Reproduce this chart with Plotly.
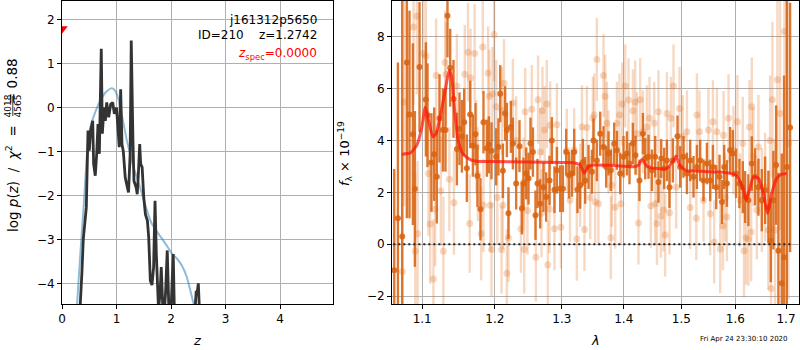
import plotly.graph_objects as go

# ---------------- left panel: p(z) ----------------
z_pz = [0.33, 0.336, 0.367, 0.39, 0.416, 0.446, 0.477, 0.50, 0.526, 0.563, 0.58, 0.61, 0.636, 0.66, 0.685,
        0.72, 0.74, 0.77, 0.795, 0.82, 0.856, 0.893, 0.93, 0.96, 1.0, 1.03, 1.05, 1.076, 1.10, 1.125, 1.16,
        1.2, 1.22, 1.25, 1.27, 1.30, 1.32, 1.36, 1.38, 1.40, 1.425, 1.443, 1.47, 1.50, 1.53, 1.566, 1.59,
        1.62, 1.65, 1.68, 1.706, 1.73, 1.755, 1.77, 1.80, 1.82, 1.85, 1.88, 1.90, 1.93, 1.96, 2.0, 2.04,
        2.06, 2.44, 2.46, 2.48, 2.50, 2.52]
logp = [-4.6, -4.47, -3.71, -3.0, -2.57, -2.27, -0.52, -0.98, -0.52, -0.30, -1.28, -1.55, -1.05, -0.37, -1.05,
        1.34, -0.59, 0.01, -0.30, 0.12, -0.22, 0.08, 0.12, -0.14, 0.0, -0.52, -0.9, 0.42, -0.83, -1.0, -1.59,
        -1.82, -1.93, -1.05, 1.53, -0.7, -1.67, -1.82, -1.97, -1.52, -0.83, -1.28, -1.36, -2.05, -2.43, -2.57, -2.95,
        -3.94, -4.04, -3.63, -2.12, -3.33, -4.39, -4.6, -4.2, -3.63, -4.6, -4.6, -4.2, -3.25, -4.6, -4.6, -3.33,
        -4.6, -4.6, -4.2, -4.2, -4.0, -4.6]

z_chi = [0.275, 0.336, 0.40, 0.46, 0.52, 0.61, 0.70, 0.795, 0.90, 0.95, 1.01, 1.07, 1.13, 1.19, 1.25, 1.31,
         1.376, 1.47, 1.56, 1.65, 1.77, 1.90, 2.02, 2.11, 2.20, 2.29, 2.355, 2.43]
chi_val = [-4.5, -3.33, -2.2, -1.05, -0.45, -0.1, 0.16, 0.34, 0.44, 0.42, 0.30, 0.0, -0.37, -0.75, -1.05, -1.36,
           -1.59, -1.97, -2.35, -2.65, -2.87, -3.1, -3.33, -3.44, -3.6, -3.86, -4.17, -4.55]

z_spec = [0.0]
zspec_y = [1.80]

# ---------------- right panel: spectrum ----------------
lam_dark = [1.0638, 1.0685, 1.0740, 1.0800, 1.0834, 1.0878, 1.0904, 1.0965, 1.1049, 1.1070, 1.1122, 1.1159,
            1.1194, 1.1230, 1.1276, 1.1311, 1.1338, 1.1375, 1.1420, 1.1466, 1.1502, 1.1535, 1.1567, 1.1604,
            1.1650, 1.1688, 1.1724, 1.1752, 1.1794, 1.1837, 1.1885, 1.1913, 1.1951,
            1.2018, 1.2051, 1.2076, 1.2115, 1.2148, 1.2173, 1.2196, 1.2232, 1.2261, 1.2309, 1.2358, 1.2394,
            1.2417, 1.2458, 1.2492, 1.2522, 1.2558, 1.2597, 1.2627, 1.2668, 1.2718, 1.2759, 1.2810, 1.2846,
            1.2886, 1.2924, 1.2975,
            1.3017, 1.3068, 1.3111, 1.3158, 1.3194, 1.3246, 1.3289, 1.3332, 1.3369, 1.3422, 1.3477,
            1.3502, 1.3557, 1.3611, 1.3665, 1.3709, 1.3747, 1.3786, 1.3841, 1.3886, 1.3941,
            1.3996, 1.4053, 1.4097, 1.4154, 1.4198, 1.4266, 1.4325, 1.4364, 1.4421, 1.4480,
            1.4537, 1.4594, 1.4642, 1.4694, 1.4742, 1.4788, 1.4848, 1.4930, 1.4978, 1.5038,
            1.5099, 1.5159, 1.5219, 1.5281, 1.5341, 1.5402, 1.5465, 1.5526, 1.5576,
            1.5638, 1.5700, 1.5745, 1.5788, 1.5839, 1.5900, 1.5951, 1.6014, 1.6078,
            1.6143, 1.6188, 1.6252, 1.6318, 1.6383, 1.6448, 1.6515, 1.6580, 1.6646,
            1.6693, 1.6745, 1.6800, 1.6846, 1.6914, 1.6960, 1.7016, 1.7083]
flux_dark = [-1.0, 1.0, 0.3, 7.0, 5.0, 4.24, 2.13, 6.83, 5.58, 4.97, 3.15, 3.47,
             2.6, 4.85, 4.4, 4.4, 8.8, 6.8, 5.6, 3.67, 4.45, 4.16, 4.7, 2.93,
             5.0, 3.8, 4.24, 2.63, 1.35, 4.7, 3.7, 3.83, 3.6,
             3.37, 3.75, 5.8, 2.83, 5.04, 4.4, 1.2, 4.52, 3.88, 2.34, 3.78, 1.38,
             2.34, 2.73, 2.53, 3.88, 3.55, 1.12, 2.34, 1.56, 2.2, 1.82, 2.46, 4.0,
             2.1, 2.85, 2.14,
             2.14, 3.55, 2.66, 2.73, 3.55, 2.1, 2.27, 3.16, 2.46, 2.98, 2.79,
             4.0, 3.23, 4.26, 3.75, 2.98, 3.5, 2.85, 3.88, 3.62, 2.73,
             3.37, 3.5, 3.11, 3.88, 3.43, 2.46, 4.26, 3.3, 3.37, 2.85,
             3.37, 2.4, 3.3, 2.92, 3.23, 2.2, 3.23, 4.16, 2.98, 3.37,
             2.73, 3.23, 2.6, 2.98, 3.23, 2.46, 3.11, 2.46, 2.98,
             2.2, 2.6, 1.63, 2.98, 2.34, 3.62, 3.5, 2.73, 2.34,
             2.2, 1.82, 1.7, 3.11, 2.6, 2.2, 1.7, 2.08, 1.43,
             0.14, 1.7, 3.05, -0.25, -1.5, -0.5, 2.98, 4.5]
err_dark = [3.9, 6.0, 10.0, 6.0, 4.0, 3.5, 3.0, 2.5, 2.2, 2.0, 1.9, 1.8,
            1.8, 1.7, 1.6, 1.6, 1.6, 1.5, 1.5, 1.4, 1.4, 1.4, 1.3, 1.3,
            1.3, 1.2, 1.2, 1.2, 1.2, 1.2, 1.1, 1.1, 1.1,
            1.1, 1.1, 1.1, 1.05, 1.05, 1.05, 1.0, 1.0, 1.0, 1.0, 1.0, 1.0,
            1.0, 1.0, 1.0, 1.0, 0.95, 0.95, 0.95, 0.95, 0.95, 0.95, 0.95, 0.9,
            0.9, 0.9, 0.9,
            0.9, 0.9, 0.9, 0.9, 0.9, 0.9, 0.9, 0.9, 0.9, 0.85, 0.85,
            0.85, 0.8, 0.85, 0.8, 0.8, 0.85, 0.8, 0.8, 0.75, 0.8,
            0.8, 0.85, 0.8, 0.8, 0.75, 0.8, 0.8, 0.8, 0.85, 0.8,
            0.8, 0.8, 0.75, 0.8, 0.8, 0.8, 0.85, 0.8, 0.8, 0.8,
            0.8, 0.8, 0.8, 0.85, 0.8, 0.8, 0.8, 0.8, 0.85,
            0.85, 0.85, 0.85, 0.85, 0.9, 0.9, 0.9, 0.95, 0.95,
            1.0, 1.0, 1.0, 1.05, 1.1, 1.1, 1.2, 1.3, 1.4,
            1.6, 1.9, 2.3, 3.0, 5.0, 7.0, 9.0, 4.8]

lam_light = [1.0743, 1.0765, 1.0887, 1.0909, 1.0930, 1.0940, 1.1016, 1.1049, 1.1083, 1.1106, 1.1149, 1.1172,
             1.1185, 1.1248, 1.1282, 1.1305, 1.1318, 1.1363, 1.1426, 1.1466, 1.1575, 1.1620, 1.1643, 1.1655,
             1.1712, 1.1735, 1.1757, 1.1804, 1.1827, 1.1836, 1.1902, 1.1920, 1.1934, 1.1952, 1.1965, 1.1988,
             1.2020, 1.2034, 1.2095, 1.2101, 1.2115, 1.2131, 1.2173, 1.2196, 1.2261, 1.2309, 1.2379, 1.2417,
             1.2428, 1.2443, 1.2476, 1.2541, 1.2603, 1.2636, 1.2668, 1.2688, 1.2702, 1.2736, 1.2769, 1.2784,
             1.2810, 1.2820, 1.2886, 1.2924, 1.2986, 1.3078, 1.3128, 1.3194, 1.3236, 1.3289, 1.3317, 1.3358,
             1.3396, 1.3450, 1.3493, 1.3515, 1.3530, 1.3557, 1.3583, 1.3665, 1.3692, 1.3720, 1.3747, 1.3786,
             1.3803, 1.3858, 1.3886, 1.3929, 1.3952, 1.3974, 1.4025, 1.4080, 1.4154, 1.4193, 1.4222, 1.4249,
             1.4278, 1.4325, 1.4393, 1.4438, 1.4462, 1.4520, 1.4537, 1.4567, 1.4594, 1.4636, 1.4681, 1.4711,
             1.4742, 1.4788, 1.4812, 1.4859, 1.4906, 1.4966, 1.5026, 1.5099, 1.5159, 1.5270, 1.5281, 1.5328,
             1.5402, 1.5493, 1.5526, 1.5576, 1.5600, 1.5651, 1.5713, 1.5764, 1.5776, 1.5808, 1.5839, 1.5870,
             1.5964, 1.6040, 1.6091, 1.6143, 1.6168, 1.6207, 1.6252, 1.6272, 1.6305, 1.6318, 1.6350, 1.6416,
             1.6448, 1.6515, 1.6580, 1.6646, 1.6679, 1.6699, 1.6725, 1.6779, 1.6825, 1.6880, 1.6968, 1.7050]
flux_light = [-1.05, 5.48, 8.37, -0.27, 8.78, 0.41, 7.35, 7.24, 2.73, 0.78, -1.34, 1.35,
              6.5, 2.05, -0.27, 7.0, 6.55, 2.5, 1.6, 6.1, 6.55, 7.4, 0.8, 6.4,
              7.35, 3.75, 2.7, 0.41, 7.6, 1.5, 6.6, 5.7, 1.5, -0.2, 5.8, 8.08,
              5.3, 1.8, -0.2, 5.14, 1.5, 6.2, -1.12, 0.25, 5.44, 4.0, 0.6, 2.4,
              -0.2, 5.1, 1.3, 5.2, -0.5, 5.57, 3.55, 1.2, 5.14, 4.4, 5.4, -0.79,
              1.36, 4.58, 0.6, 4.6, 0.66, 3.62, 1.7, 3.64, 0.2, 2.27, 4.52, 0.57,
              4.5, 1.8, 4.85, 4.98, 1.63, 7.12, 1.56, 6.5, 5.7, 4.66, 3.55, 0.25,
              2.27, 1.43, 4.66, 4.98, 1.56, 5.4, 6.1, 5.56, 5.14, 5.48, 4.26, 0.82,
              5.57, 4.33, 4.52, 4.85, 1.47, 4.66, 1.56, 0.8, 5.1, 1.08, 1.32, 0.36,
              5.04, 1.21, 4.85, 6.1, 2.2, 5.23, 4.14, 4.33, 1.42, 1.0, 4.98, 4.33,
              1.7, 4.4, 1.18, 4.72, 0.09, 4.33, -0.18, 0.7, 4.2, 1.8, 1.05, 4.85,
              3.62, 4.72, 1.7, 3.88, -0.25, 0.25, 0.2, 4.52, 0.47, 5.3, 3.37, 1.32,
              3.75, 1.7, 2.2, 0.55, 4.0, -1.7, 5.57, 0.55, 6.34, 5.04, 8.2, 3.88]
err_light = [4.5, 4.0, 3.0, 3.0, 3.0, 2.8, 2.6, 2.5, 2.4, 2.3, 2.3, 2.2,
             2.2, 2.1, 2.1, 2.0, 2.0, 2.0, 2.0, 2.0, 1.9, 1.9, 1.9, 1.9,
             1.9, 1.8, 1.8, 1.8, 1.8, 1.8, 1.8, 1.8, 1.8, 1.8, 1.8, 1.8,
             1.8, 1.8, 1.7, 1.7, 1.7, 1.7, 1.7, 1.7, 1.7, 1.7, 1.7, 1.7,
             1.7, 1.7, 1.7, 1.7, 1.7, 1.7, 1.7, 1.7, 1.7, 1.7, 1.7, 1.7,
             1.7, 1.7, 1.6, 1.6, 1.6, 1.6, 1.6, 1.6, 1.6, 1.6, 1.6, 1.6,
             1.6, 1.6, 1.6, 1.6, 1.6, 1.6, 1.6, 1.6, 1.6, 1.6, 1.6, 1.6,
             1.6, 1.6, 1.6, 1.6, 1.6, 1.6, 1.6, 1.6, 1.6, 1.6, 1.6, 1.6,
             1.6, 1.6, 1.6, 1.6, 1.6, 1.6, 1.6, 1.6, 1.6, 1.6, 1.6, 1.6,
             1.6, 1.6, 1.6, 1.6, 1.6, 1.6, 1.6, 1.6, 1.6, 1.6, 1.6, 1.6,
             1.6, 1.6, 1.6, 1.6, 1.6, 1.7, 1.7, 1.7, 1.7, 1.7, 1.7, 1.7,
             1.7, 1.8, 1.8, 1.8, 1.8, 1.8, 1.8, 1.8, 1.9, 1.9, 1.9, 1.9,
             2.0, 2.0, 2.1, 2.3, 2.5, 3.0, 3.0, 3.5, 4.0, 4.5, 5.0, 6.0]

lam_model = [1.0736, 1.0845, 1.0930, 1.0996, 1.1039, 1.1083, 1.1142, 1.1185, 1.1238, 1.1307, 1.1363, 1.1394,
             1.1439, 1.1484, 1.1551, 1.1666, 1.1780, 1.1990, 1.2500, 1.3000, 1.3183, 1.3289, 1.3353, 1.3422,
             1.3502, 1.3800, 1.4164, 1.4250, 1.4308, 1.4393, 1.4567, 1.4742, 1.4859, 1.4906, 1.4978, 1.5099,
             1.5219, 1.5500, 1.5710, 1.5900, 1.6000, 1.6059, 1.6155, 1.6207, 1.6272, 1.6350, 1.6448, 1.6548,
             1.6626, 1.6712, 1.6811, 1.6914, 1.7016]
flux_model = [3.47, 3.52, 3.82, 4.52, 5.29, 4.78, 4.14, 4.27, 4.91, 5.93, 6.7, 6.45,
              5.05, 4.01, 3.47, 3.24, 3.19, 3.19, 3.17, 3.15, 3.14, 3.05, 2.74, 2.99,
              3.05, 3.04, 2.99, 3.05, 3.27, 3.01, 2.92, 2.92, 3.24, 3.4, 3.01, 2.83,
              2.83, 2.79, 2.78, 2.73, 2.68, 2.54, 2.09, 1.7, 2.09, 2.6, 2.54, 1.96,
              1.19, 1.96, 2.54, 2.7, 2.73]

zero_lam = [1.05, 1.714]
zero_flux = [0.0, 0.0]

z_ticks = [0, 1, 2, 3, 4]
logp_ticks = [-4, -3, -2, -1, 0, 1, 2]
lam_ticks = [1.1, 1.2, 1.3, 1.4, 1.5, 1.6, 1.7]
lam_ticktext = ["1.1", "1.2", "1.3", "1.4", "1.5", "1.6", "1.7"]
flux_ticks = [-2, 0, 2, 4, 6, 8]

assert len(z_pz) == len(logp)
assert len(z_chi) == len(chi_val)
assert len(lam_dark) == len(flux_dark) == len(err_dark), (len(lam_dark), len(flux_dark), len(err_dark))
assert len(lam_light) == len(flux_light) == len(err_light), (len(lam_light), len(flux_light), len(err_light))
assert len(lam_model) == len(flux_model)

FONT = "DejaVu Sans"
W, H = 800, 350


def px(x):
    return x / W


def py(y):
    return 1 - y / H


fig = go.Figure()

# left panel
fig.add_trace(go.Scatter(x=z_chi, y=chi_val, mode="lines",
                         line=dict(color="rgba(31,119,180,0.5)", width=2, shape="spline", smoothing=0.6),
                         xaxis="x", yaxis="y", hoverinfo="skip"))
fig.add_trace(go.Scatter(x=z_pz, y=logp, mode="lines",
                         line=dict(color="#333333", width=2.8),
                         xaxis="x", yaxis="y", hoverinfo="skip"))
fig.add_trace(go.Scatter(x=z_spec, y=zspec_y, mode="markers",
                         marker=dict(symbol="triangle-down", color="red", size=10, line=dict(width=0)),
                         xaxis="x", yaxis="y", cliponaxis=True))

# right panel
LIGHT = "rgba(225,110,30,0.27)"
DARK = "rgba(218,100,18,0.88)"
fig.add_trace(go.Scatter(x=lam_light, y=flux_light, mode="markers",
                         marker=dict(color=LIGHT, size=7, line=dict(width=0)),
                         error_y=dict(type="data", array=err_light, color=LIGHT, thickness=2.4, width=0),
                         xaxis="x2", yaxis="y2"))
fig.add_trace(go.Scatter(x=lam_dark, y=flux_dark, mode="markers",
                         marker=dict(color=DARK, size=6, line=dict(width=0)),
                         error_y=dict(type="data", array=err_dark, color=DARK, thickness=2.4, width=0),
                         xaxis="x2", yaxis="y2"))
fig.add_trace(go.Scatter(x=lam_model, y=flux_model, mode="lines",
                         line=dict(color="rgba(255,20,10,0.72)", width=3, shape="spline", smoothing=0.6),
                         xaxis="x2", yaxis="y2"))
fig.add_trace(go.Scatter(x=zero_lam, y=zero_flux, mode="lines",
                         line=dict(color="#222222", width=2, dash="2px,3px"),
                         xaxis="x2", yaxis="y2"))

axis_common = dict(showline=True, linecolor="black", linewidth=1, mirror=True,
                   ticks="outside", ticklen=4, tickwidth=1, tickcolor="black",
                   showgrid=True, gridcolor="#b0b0b0", gridwidth=1, zeroline=False, automargin=False,
                   tickfont=dict(family=FONT, size=12, color="black"))

fig.update_layout(
    width=W, height=H,
    margin=dict(l=0, r=0, t=0, b=0, pad=0, autoexpand=False),
    paper_bgcolor="white", plot_bgcolor="white",
    showlegend=False,
    xaxis=dict(domain=[px(62), px(333)], range=[0, 4.97], tickmode="array", tickvals=z_ticks,
               anchor="y", **axis_common),
    yaxis=dict(domain=[1 - 304 / H, 1 - 1 / H], range=[-4.47, 2.43], tickmode="array", tickvals=logp_ticks,
               anchor="x", **axis_common),
    xaxis2=dict(domain=[px(392), px(799)], type="log", range=[0.0257, 0.2372], tickmode="array",
                tickvals=lam_ticks, ticktext=lam_ticktext, anchor="y2", **axis_common),
    yaxis2=dict(domain=[1 - 304 / H, 1 - 1 / H], range=[-2.3, 9.37], tickmode="array", tickvals=flux_ticks,
                anchor="x2", **axis_common),
)

NB = "\u00a0"
ann = []
# text in left panel
ann.append(dict(text="j161312p5650", x=px(319), y=py(20), xanchor="right", yanchor="middle",
                font=dict(family=FONT, size=12, color="black")))
ann.append(dict(text="ID=210" + NB * 4 + "z=1.2742", x=px(319), y=py(35), xanchor="right",
                yanchor="middle", font=dict(family=FONT, size=12, color="black")))
ann.append(dict(text="<i>z</i><sub>spec</sub>=0.0000", x=px(319), y=py(54), xanchor="right",
                yanchor="middle", font=dict(family=FONT, size=12, color="red")))
# axis titles (rotated pieces, centred)
ann.append(dict(text="log" + NB + "<i>p</i>(<i>z</i>)" + NB * 2 + "/" + NB * 2 + "<i>χ</i><sup>2</sup>" + NB * 2 + "=",
                x=px(12), y=py(179), xanchor="center", yanchor="middle", textangle=-90,
                font=dict(family=FONT, size=13.5, color="black")))
ann.append(dict(text="4018", x=px(7.5), y=py(106), xanchor="center", yanchor="middle", textangle=-90,
                font=dict(family=FONT, size=9, color="black")))
ann.append(dict(text="4565", x=px(17.5), y=py(106), xanchor="center", yanchor="middle", textangle=-90,
                font=dict(family=FONT, size=9, color="black")))
ann.append(dict(text="=" + NB + "0.88", x=px(12), y=py(81), xanchor="center", yanchor="middle", textangle=-90,
                font=dict(family=FONT, size=13.5, color="black")))
ann.append(dict(text="<i>f</i><sub>λ</sub> × 10<sup>−19</sup>", x=px(345), y=py(154), xanchor="center",
                yanchor="middle", textangle=-90, font=dict(family=FONT, size=13, color="black")))
ann.append(dict(text="<i>z</i>", x=px(197.5), y=py(340), xanchor="center", yanchor="middle",
                font=dict(family=FONT, size=13, color="black")))
ann.append(dict(text="<i>λ</i>", x=px(595.5), y=py(340), xanchor="center", yanchor="middle",
                font=dict(family=FONT, size=13, color="black")))
ann.append(dict(text="Fri Apr 24 23:30:10 2020", x=px(744), y=py(339), xanchor="center", yanchor="middle",
                font=dict(family=FONT, size=7, color="black")))
for a in ann:
    a.update(xref="paper", yref="paper", showarrow=False)
fig.update_layout(annotations=ann)

# fraction bar in the rotated y-axis title
fig.add_shape(type="line", xref="paper", yref="paper", x0=px(12.8), x1=px(12.8), y0=py(96), y1=py(116),
              line=dict(color="black", width=0.8))

fig.write_html("out.html")
